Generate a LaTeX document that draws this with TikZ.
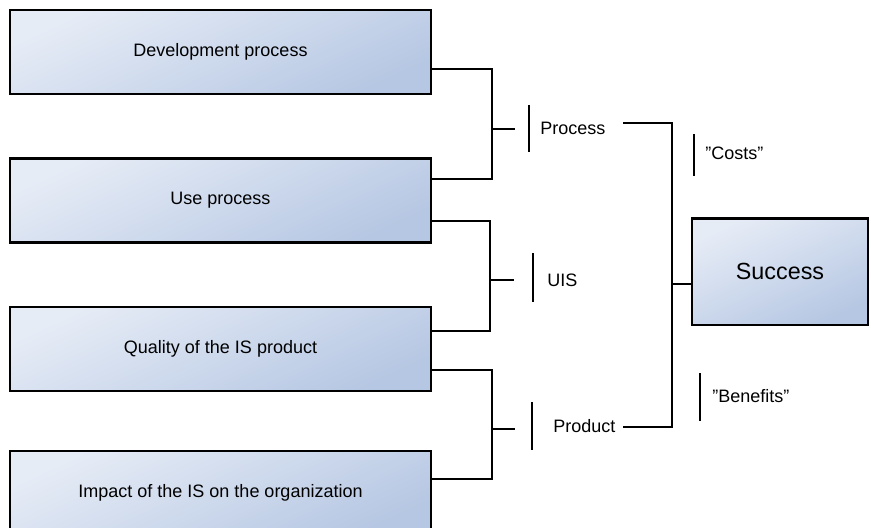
\documentclass[tikz,border=0pt]{standalone}
\usepackage{fontspec}
\setmainfont{Liberation Sans}
\usetikzlibrary{calc}
\definecolor{boxlight}{RGB}{230,236,246}
\definecolor{boxdark}{RGB}{182,199,227}
\tikzset{
  factor/.style={draw=black, line width=2pt, inner sep=0pt,
    minimum width=315.75pt, minimum height=63pt,
    top color=boxlight, bottom color=boxdark, shading angle=25,
    font=\fontsize{13.5}{16}\selectfont},
  goal/.style={factor, minimum width=132pt, minimum height=80pt,
    font=\fontsize{17.5}{21}\selectfont},
  conn/.style={line width=1.7pt, line cap=rect},
  tick/.style={line width=1.7pt},
  lbl/.style={anchor=west, inner sep=0pt, font=\fontsize{13.5}{16}\selectfont}
}
\begin{document}
\begin{tikzpicture}[x=0.75pt, y=-0.75pt]
\useasboundingbox (0,0) rectangle (871,528);
\clip (0,0) rectangle (871,528);

% factor boxes
\node[factor] (dev) at (220.5,52)  {Development process};
\node[factor] (use) at (220.5,200.5) {Use process};
\node[factor] (qual) at (220.5,349) {Quality of the IS product};
\node[factor] (imp) at (220.5,493) {Impact of the IS on the organization};
\node[goal]   (succ) at (780,271.5) {Success};

% group labels
\node[lbl] (lproc) at (540,128) {Process};
\node[lbl] (luis)  at (547,280) {UIS};
\node[lbl] (lprod) at (553,426) {Product};
\node[lbl] (lcost) at (705,153) {”Costs”};
\node[lbl] (lben)  at (712,396) {”Benefits”};

% bracket junctions
\coordinate (jp) at (492,129);
\coordinate (ju) at (490,280);
\coordinate (jd) at (492,429);
\coordinate (js) at (672,284);

% Process bracket
\draw[conn] ($(dev.east)+(0,17)$) -| (jp);
\draw[conn] ($(use.east)+(0,-21.5)$) -| (jp);
\draw[conn] (jp) -- ++(22,0);
\draw[tick] ($(lproc.west)+(-11,-23)$) -- ($(lproc.west)+(-11,24)$);

% UIS bracket
\draw[conn] ($(use.east)+(0,20.5)$) -| (ju);
\draw[conn] ($(qual.east)+(0,-18)$) -| (ju);
\draw[conn] (ju) -- ++(23,0);
\draw[tick] ($(luis.west)+(-14,-27)$) -- ($(luis.west)+(-14,22)$);

% Product bracket
\draw[conn] ($(qual.east)+(0,21)$) -| (jd);
\draw[conn] ($(imp.east)+(0,-14)$) -| (jd);
\draw[conn] (jd) -- ++(22,0);
\draw[tick] ($(lprod.west)+(-21,-24)$) -- ($(lprod.west)+(-21,24)$);

% Success bracket
\draw[conn] ($(lproc.east)+(19,-5)$) -| (js);
\draw[conn] ($(lprod.east)+(9,1)$) -| (js);
\draw[conn] (js) -- (succ.west |- js);

% cost / benefit ticks
\draw[tick] ($(lcost.west)+(-11,-19)$) -- ($(lcost.west)+(-11,23)$);
\draw[tick] ($(lben.west)+(-12,-23)$) -- ($(lben.west)+(-12,25)$);
\end{tikzpicture}
\end{document}
